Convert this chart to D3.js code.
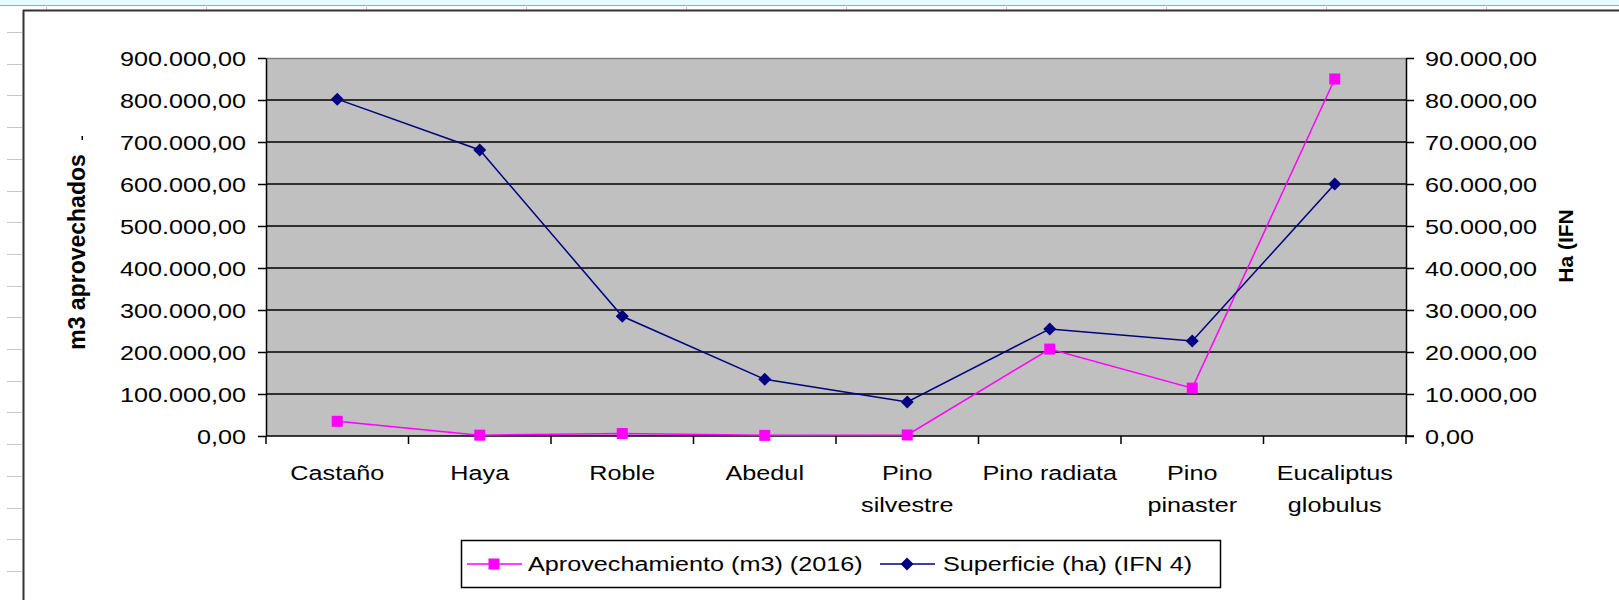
<!DOCTYPE html>
<html><head><meta charset="utf-8">
<script src="https://cdn.jsdelivr.net/npm/d3@7"></script>
<style>
html,body{margin:0;padding:0;background:#fff;}
svg{display:block;}
text{font-family:"Liberation Sans",Arial,sans-serif;fill:#000;}
</style></head>
<body><svg id="c" width="1619" height="600"></svg>
<script>
const categories = [["Castaño"],["Haya"],["Roble"],["Abedul"],["Pino","silvestre"],["Pino radiata"],["Pino","pinaster"],["Eucaliptus","globulus"]];
const aprovechamiento = [35000, 2000, 6000, 1500, 2500, 207000, 114000, 850000];
const superficie = [80200, 68100, 28500, 13500, 8100, 25500, 22600, 60000];
const leftTicks = [0,100000,200000,300000,400000,500000,600000,700000,800000,900000];
const rightTicks = [0,10000,20000,30000,40000,50000,60000,70000,80000,90000];
const seriesNames = ["Aprovechamiento (m3) (2016)","Superficie (ha) (IFN 4)"];
const axisTitles = ["m3 aprovechados","Ha (IFN"];

const svg = d3.select("#c");
const SX = 1.2;
const FS = 21;
const loc = d3.formatLocale({decimal:",",thousands:".",grouping:[3],currency:["","€"]});
const fmt = loc.format(",.2f");

// spreadsheet background
svg.append("rect").attr("x",0).attr("y",0).attr("width",1619).attr("height",5).attr("fill","#e4fbff");
svg.append("line").attr("x1",0).attr("x2",1619).attr("y1",5.5).attr("y2",5.5).attr("stroke","#9aa").attr("stroke-width",1);
d3.range(46,1619,160).forEach(x=>{
  svg.append("line").attr("x1",x+0.5).attr("x2",x+0.5).attr("y1",5).attr("y2",10).attr("stroke","#c8c8c8");
});
d3.range(32,600,31.7).forEach(y=>{
  svg.append("line").attr("x1",7).attr("x2",22).attr("y1",Math.round(y)+0.5).attr("y2",Math.round(y)+0.5).attr("stroke","#c8c8c8");
});
// chart frame
svg.append("line").attr("x1",23).attr("x2",1619).attr("y1",10.5).attr("y2",10.5).attr("stroke","#333").attr("stroke-width",2);
svg.append("line").attr("x1",23.5).attr("x2",23.5).attr("y1",10).attr("y2",600).attr("stroke","#333").attr("stroke-width",2);

const L=266, R=1406, T=58, B=436;
const x = d3.scaleBand().domain(categories.map(d=>d.join(" "))).range([L,R]);
const yL = d3.scaleLinear().domain([0,900000]).range([B,T]);
const yR = d3.scaleLinear().domain([0,90000]).range([B,T]);

svg.append("rect").attr("x",L).attr("y",T).attr("width",R-L).attr("height",B-T).attr("fill","#c0c0c0");
svg.append("line").attr("x1",L).attr("x2",R).attr("y1",T+0.5).attr("y2",T+0.5).attr("stroke","#808080").attr("stroke-width",1.5);
// gridlines
svg.append("g").selectAll("line").data(leftTicks.slice(1,-1)).join("line")
  .attr("x1",L).attr("x2",R).attr("y1",d=>yL(d)).attr("y2",d=>yL(d))
  .attr("stroke","#000").attr("stroke-width",1.5);

function styleAxis(g){
  g.select(".domain").attr("stroke","#000").attr("stroke-width",1.5);
  g.selectAll(".tick line").attr("stroke","#000").attr("stroke-width",1.5);
  g.selectAll("text").attr("font-size",FS).attr("font-family","Liberation Sans, Arial, sans-serif").attr("fill","#000");
}
const gl = svg.append("g").attr("transform",`translate(${L},0)`)
  .call(d3.axisLeft(yL).tickValues(leftTicks).tickFormat(fmt).tickSize(8).tickSizeOuter(0));
styleAxis(gl);
gl.selectAll(".tick text").attr("x",-20/SX).attr("dy","0.35em").attr("transform",`scale(${SX},1)`);

const gr = svg.append("g").attr("transform",`translate(${R},0)`)
  .call(d3.axisRight(yR).tickValues(rightTicks).tickFormat(fmt).tickSize(8).tickSizeOuter(0));
styleAxis(gr);
gr.selectAll(".tick text").attr("x",19/SX).attr("dy","0.35em").attr("transform",`scale(${SX},1)`);

// bottom axis with ticks at category boundaries
const gb = svg.append("g").attr("transform",`translate(0,${B})`);
gb.append("line").attr("x1",L).attr("x2",R+8).attr("stroke","#000").attr("stroke-width",1.5);
const bounds = categories.map((d,i)=>x(d.join(" "))).concat([R]);
gb.selectAll("line.tk").data(bounds).join("line").attr("class","tk")
  .attr("x1",d=>d).attr("x2",d=>d).attr("y1",0).attr("y2",8).attr("stroke","#000").attr("stroke-width",1.5);
categories.forEach(c=>{
  const cx = x(c.join(" "))+x.bandwidth()/2;
  const t = gb.append("text").attr("transform",`translate(${cx},0) scale(${SX},1)`)
    .attr("text-anchor","middle").attr("font-size",FS);
  c.forEach((line,i)=>{
    t.append("tspan").attr("x",0).attr("y",44+i*32).text(line);
  });
});

// series
const cxs = categories.map(c=>x(c.join(" "))+x.bandwidth()/2);
const lineL = d3.line().x((d,i)=>cxs[i]).y(d=>yL(d));
const lineR = d3.line().x((d,i)=>cxs[i]).y(d=>yR(d));
svg.append("path").attr("d",lineL(aprovechamiento)).attr("fill","none").attr("stroke","#ff00ff").attr("stroke-width",1.5);
svg.append("path").attr("d",lineR(superficie)).attr("fill","none").attr("stroke","#000080").attr("stroke-width",1.5);
svg.append("g").selectAll("rect").data(aprovechamiento).join("rect")
  .attr("x",(d,i)=>cxs[i]-5.5).attr("y",d=>yL(d)-5.5).attr("width",11).attr("height",11).attr("fill","#ff00ff");
const diamond = "M0,-6.5L6.5,0L0,6.5L-6.5,0Z";
svg.append("g").selectAll("path").data(superficie).join("path")
  .attr("transform",(d,i)=>`translate(${cxs[i]},${yR(d)})`).attr("d",diamond).attr("fill","#000080");

// axis titles
svg.append("text").attr("transform","translate(85,252) rotate(-90)").attr("text-anchor","middle")
  .attr("font-size",23).attr("font-weight","bold").text(axisTitles[0]);
svg.append("rect").attr("x",81.5).attr("y",136).attr("width",1.5).attr("height",4).attr("fill","#000");
svg.append("text").attr("transform","translate(1573,246) rotate(-90)").attr("text-anchor","middle")
  .attr("font-size",21).attr("font-weight","bold").text(axisTitles[1]);

// legend
const lg = svg.append("g");
lg.append("rect").attr("x",461.5).attr("y",540.5).attr("width",759).attr("height",47).attr("fill","#fff").attr("stroke","#000").attr("stroke-width",1.5);
const ly = 564;
lg.append("line").attr("x1",467).attr("x2",522).attr("y1",ly).attr("y2",ly).attr("stroke","#ff00ff").attr("stroke-width",1.5);
lg.append("rect").attr("x",494-5.5).attr("y",ly-5.5).attr("width",11).attr("height",11).attr("fill","#ff00ff");
lg.append("text").attr("transform",`translate(528,${ly}) scale(${SX},1)`).attr("dy","0.35em").attr("font-size",FS).text(seriesNames[0]);
lg.append("line").attr("x1",880).attr("x2",935).attr("y1",ly).attr("y2",ly).attr("stroke","#000080").attr("stroke-width",1.5);
lg.append("path").attr("transform",`translate(907,${ly})`).attr("d",diamond).attr("fill","#000080");
lg.append("text").attr("transform",`translate(943,${ly}) scale(${SX},1)`).attr("dy","0.35em").attr("font-size",FS).text(seriesNames[1]);
</script></body></html>
